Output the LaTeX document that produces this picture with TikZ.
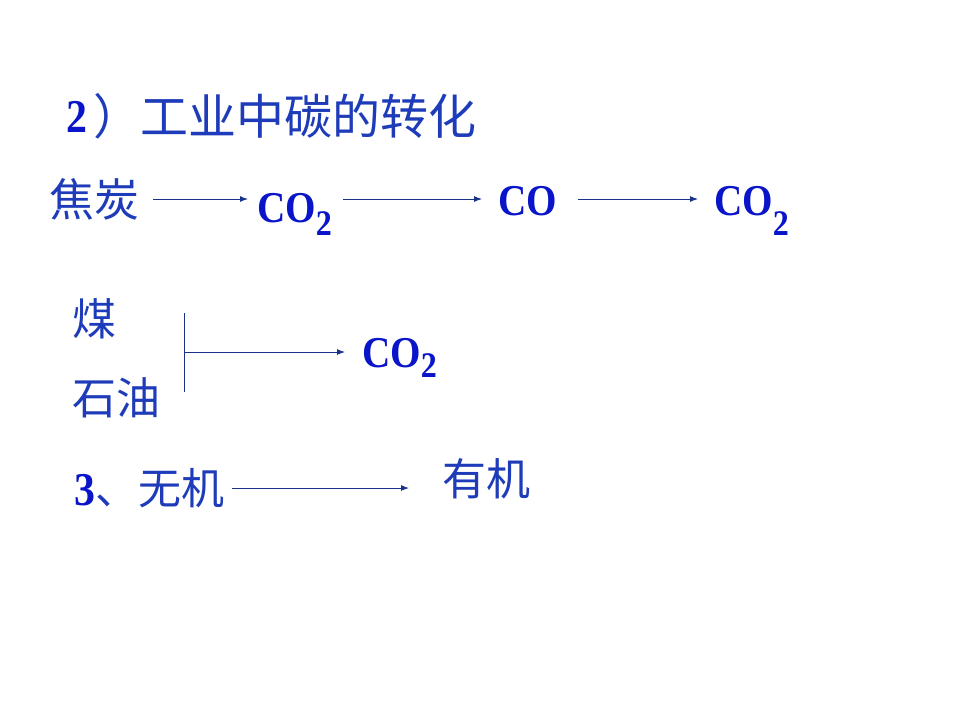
\documentclass[tikz,border=0pt]{standalone}
\usepackage{fontspec}
\setmainfont{Liberation Serif}
\newfontfamily\cjk{Noto Sans CJK SC}
\newfontfamily\chemfont[FakeStretch=0.89]{Liberation Serif}
\usetikzlibrary{arrows.meta}
\definecolor{txtblue}{RGB}{30,60,185}
\definecolor{chemblue}{RGB}{10,20,200}
\definecolor{arrblue}{RGB}{25,50,140}
\newcommand{\subtwo}[1]{\raisebox{-#1pt}{\fontsize{36}{38}\selectfont 2}}
\tikzset{
  zh/.style={inner sep=0pt, text=txtblue, font=\cjk\fontsize{44}{46}\selectfont},
  zhtitle/.style={inner sep=0pt, text=txtblue, font=\cjk\fontsize{48}{50}\selectfont},
  chem/.style={inner sep=0pt, text=chemblue, font=\chemfont\bfseries\fontsize{44}{46}\selectfont},
  numlab/.style={inner sep=0pt, text=chemblue, font=\chemfont\bfseries\fontsize{47}{49}\selectfont},
  conv/.style={draw=arrblue, line width=1pt, -{Latex[length=8pt,width=6pt]}},
  brk/.style={draw=arrblue, line width=1pt}
}
\begin{document}
\begin{tikzpicture}[x=1pt,y=-1pt]
\useasboundingbox (0,0) rectangle (960,720);
\fill[white] (0,0) rectangle (960,720);
% title
\node[numlab, anchor=base west] (t2) at (66,132) {2};
\node[zhtitle, anchor=west] (tp) at (93,116) {）};
\node[zhtitle, anchor=west] (title) at (140,116) {工业中碳的转化};
% row 1
\node[zh, anchor=west, font=\cjk\fontsize{45}{47}\selectfont] (jt) at (49,199.5) {焦炭};
\node[chem, anchor=base west] (co2a) at (257,222) {CO\subtwo{13}};
\node[chem, anchor=base west] (co) at (498,215) {CO};
\node[chem, anchor=base west] (co2b) at (714,215) {CO\subtwo{20}};
\coordinate (a1s) at (153,199);
\coordinate (a1e) at (248,199);
\coordinate (a2s) at (343,199);
\coordinate (a2e) at (482,199);
\coordinate (a3s) at (578,199);
\coordinate (a3e) at (698,199);
\draw[conv] (a1s) -- (a1e);
\draw[conv] (a2s) -- (a2e);
\draw[conv] (a3s) -- (a3e);
% row 2
\node[zh, anchor=west] (mei) at (72,319) {煤};
\node[zh, anchor=west] (sy) at (72,398) {石油};
\node[chem, anchor=base west] (co2c) at (362,367) {CO\subtwo{10}};
\coordinate (bt) at (184,313);
\coordinate (bb) at (184,392);
\coordinate (bm) at (184,352);
\coordinate (b2e) at (345,352);
\draw[brk] (bt) -- (bb);
\draw[conv] (bm) -- (b2e);
% row 3
\node[numlab, anchor=base west] (n3) at (74,505) {3};
\node[zh, anchor=west, font=\cjk\fontsize{43}{45}\selectfont] (wj) at (95,488) {、无机};
\node[zh, anchor=west] (yj) at (442,479) {有机};
\coordinate (c1s) at (232,488);
\coordinate (c1e) at (409,488);
\draw[conv] (c1s) -- (c1e);
\end{tikzpicture}
\end{document}
